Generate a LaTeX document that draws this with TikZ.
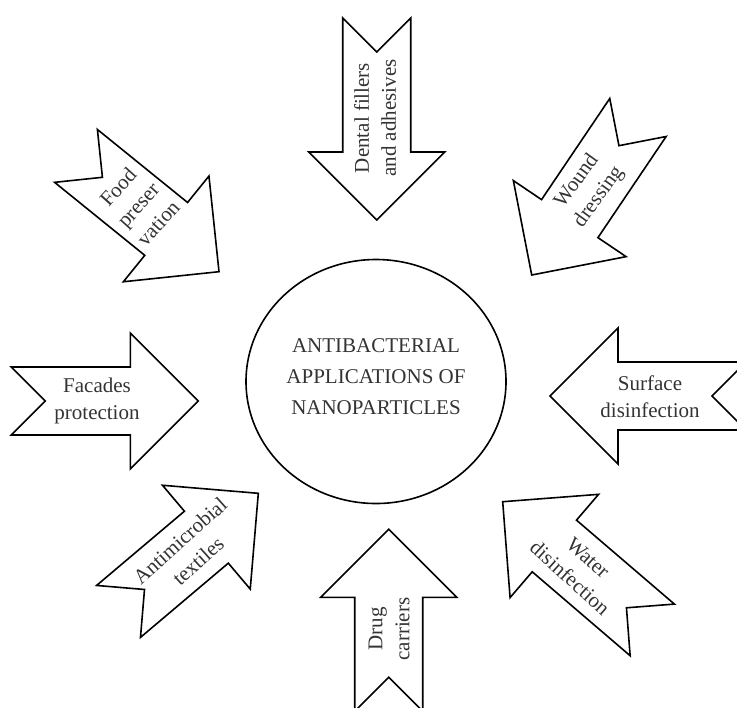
\documentclass[tikz,border=0pt]{standalone}
\usepackage{fontspec}
\setmainfont{Liberation Serif}
\usetikzlibrary{shapes.geometric}

\tikzset{
  apparrowline/.style={draw=black, line width=0.8pt, line join=miter},
  arrowtext/.style={align=center, inner sep=0pt, text=black!80,
    font=\fontsize{10.5}{13.5}\selectfont},
  hubtext/.style={align=center, inner sep=0pt, text=black!80,
    font=\fontsize{10.5}{15.5}\selectfont},
}
% notched block arrow: tip, angle, length
\newcommand{\apparrow}[3]{%
  \draw[apparrowline, shift={#1}, rotate=#2] (0,0) -- (-68,68) -- (-68,34)
    -- (-#3,34) -- ({-#3+34},0) -- (-#3,-34) -- (-68,-34) -- (-68,-68) -- cycle;}

\begin{document}
\begin{tikzpicture}[x=0.5pt, y=-0.5pt]
  \useasboundingbox (0,0) rectangle (737,707);

  % centre
  \node[draw, ellipse, line width=0.8pt, minimum width=130pt, minimum height=122pt,
    inner sep=0pt] (hub) at (376,381.5) {};
  \node[hubtext] (hubtitle) at (376,377) {ANTIBACTERIAL\\APPLICATIONS OF\\NANOPARTICLES};

  % arrows
  \apparrow{(376.7,220)}{-90}{202}
  \apparrow{(531.7,275)}{-124}{190}
  \apparrow{(550,396)}{180}{196}
  \apparrow{(502.7,501.7)}{139.4}{197}
  \apparrow{(388.7,529.3)}{90}{182}
  \apparrow{(258.3,493.3)}{40.2}{183}
  \apparrow{(198.3,401)}{0}{187}
  \apparrow{(219,271.7)}{-39}{184}

  % labels
  \node[arrowtext, rotate=90] (dental) at (375,118) {Dental fillers\\and adhesives};
  \node[arrowtext, rotate=54] (wound) at (588,189) {Wound\\dressing};
  \node[arrowtext] (surface) at (650,397) {Surface\\disinfection};
  \node[arrowtext, rotate=-42] (water) at (579,568) {Water\\disinfection};
  \node[arrowtext, rotate=90] (drug) at (389,629) {Drug\\carriers};
  \node[arrowtext, rotate=42] (textiles) at (189,551) {Antimicrobial\\textiles};
  \node[arrowtext] (facades) at (97,401) {Facades\\protection};
  \node[arrowtext, rotate=48] (food) at (138,205) {Food\\preser\\vation};
\end{tikzpicture}
\end{document}
